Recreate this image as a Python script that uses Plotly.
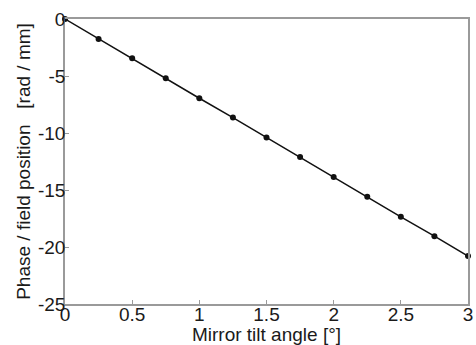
import plotly.graph_objects as go

tilt_angle = [0, 0.25, 0.5, 0.75, 1.0, 1.25, 1.5, 1.75, 2.0, 2.25, 2.5, 2.75, 3.0]
phase_per_pos = [0, -1.75, -3.45, -5.2, -6.95, -8.65, -10.4, -12.1, -13.85, -15.6, -17.35, -19.05, -20.8]

x_ticks = [0, 0.5, 1, 1.5, 2, 2.5, 3]
x_labels = ["0", "0.5", "1", "1.5", "2", "2.5", "3"]
y_ticks = [0, -5, -10, -15, -20, -25]
y_labels = ["0", "-5", "-10", "-15", "-20", "-25"]

FONT = "Liberation Sans, Arial, Helvetica, sans-serif"
TXT = "#1a1a1a"

fig = go.Figure()
fig.add_trace(go.Scatter(
    x=tilt_angle, y=phase_per_pos, mode="lines+markers",
    line=dict(color="#111111", width=1.5),
    marker=dict(color="#111111", size=6, symbol="circle"),
    cliponaxis=False,
    hoverinfo="skip",
))

axis_common = dict(
    showgrid=False, zeroline=False, showline=True, mirror=True,
    linecolor="#9a9a9a", linewidth=1.5,
    ticks="inside", ticklen=4, tickcolor="#9a9a9a", tickwidth=1,
    tickfont=dict(family=FONT, size=19, color=TXT),
    ticklabeloverflow="allow",
)

fig.update_layout(
    width=476, height=345,
    margin=dict(l=65, r=3, t=19, b=41),
    plot_bgcolor="white", paper_bgcolor="white",
    showlegend=False,
    xaxis=dict(range=[0, 3], tickvals=x_ticks, ticktext=x_labels,
               ticklabelstandoff=-8,
               title=dict(text="Mirror tilt angle [°]", standoff=3,
                          font=dict(family=FONT, size=19, color=TXT)),
               **axis_common),
    yaxis=dict(range=[-25, 0], tickvals=y_ticks, ticktext=y_labels,
               ticklabelstandoff=-6,
               title=dict(text="Phase / field position\u00a0\u00a0\u00a0[rad / mm]", standoff=2,
                          font=dict(family=FONT, size=19, color=TXT)),
               **axis_common),
)

fig.write_html(
    "out.html",
    config={"displayModeBar": False},
    post_script="document.body.style.margin='0px';document.body.style.overflow='hidden';",
)
